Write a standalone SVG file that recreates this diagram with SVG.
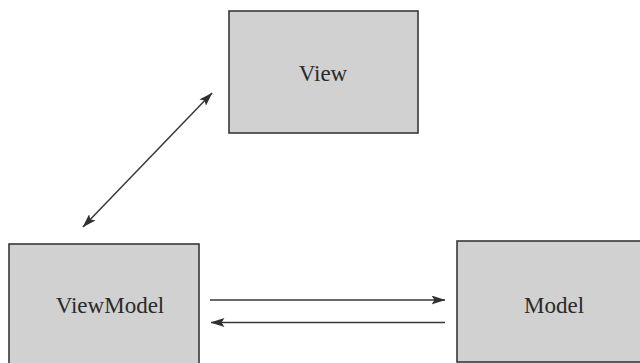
<svg xmlns="http://www.w3.org/2000/svg" width="640" height="363" viewBox="0 0 640 363">
  <style>
    .box { fill: #d1d1d1; stroke: #383838; stroke-width: 1.6; }
    .label { font-family: "Liberation Serif", "Times New Roman", serif; font-size: 23px; fill: #2a2a2a; text-anchor: middle; }
    .link { stroke: #383838; stroke-width: 1.5; fill: none; }
  </style>
  <defs>
    <!-- slim filled arrowhead shared by all connectors -->
    <marker id="head" viewBox="0 0 14 9" refX="13.5" refY="4.5" markerWidth="14" markerHeight="9" markerUnits="userSpaceOnUse" orient="auto-start-reverse">
      <path d="M0,0 L14,4.5 L0,9 L3,4.5 Z" fill="#303030"/>
    </marker>
  </defs>
  <rect width="640" height="363" fill="#ffffff"/>

  <g id="view">
    <rect class="box" x="229" y="11" width="189" height="122"/>
    <text class="label" x="323" y="81">View</text>
  </g>

  <g id="viewmodel">
    <rect class="box" x="9" y="244" width="190" height="130"/>
    <text class="label" x="110" y="313">ViewModel</text>
  </g>

  <g id="model">
    <rect class="box" x="457" y="241" width="195" height="121"/>
    <text class="label" x="554" y="313">Model</text>
  </g>

  <g id="connectors">
    <line class="link" x1="83" y1="227" x2="212" y2="93" marker-start="url(#head)" marker-end="url(#head)"/>
    <line class="link" x1="210" y1="300" x2="445" y2="300" marker-end="url(#head)"/>
    <line class="link" x1="445" y1="322.5" x2="211" y2="322.5" marker-end="url(#head)"/>
  </g>
</svg>
